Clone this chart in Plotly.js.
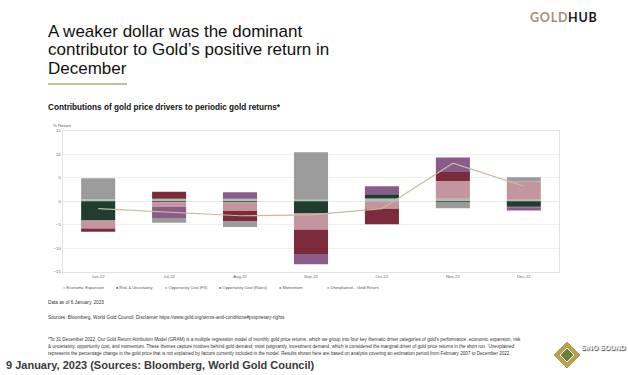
<!DOCTYPE html>
<html><head><meta charset="utf-8">
<script src="https://cdn.plot.ly/plotly-3.0.1.min.js"></script>
<style>html,body{margin:0;padding:0;background:#fff;} #chart{width:628px;height:375px;}</style>
</head><body><div id="chart"></div>
<script>
// ---- data ----
const months = ["Jun-22","Jul-22","Aug-22","Sep-22","Oct-22","Nov-22","Dec-22"];
const economicExpansion = [0.4, 0.5, 0.5, 0.3, 0.6, 0.5, 0.3];
const riskUncertainty   = [-4.1, -0.2, -0.2, -2.5, 0.9, -0.3, -1.2];
const oppCostFX         = [-1.7, -1.0, -1.9, -3.6, -1.6, 3.8, 3.9];
const oppCostRates      = [-0.7, 1.5, -2.1, -5.3, -3.3, 1.9, -0.1];
const momentum          = [0.0, -2.4, 1.4, -2.0, 1.7, 3.1, -0.7];
const unexplained       = [4.5, -1.0, -1.3, 10.1, 0.0, -1.2, 0.9];
const goldReturn        = [-1.6, -2.4, -3.1, -2.9, -1.6, 8.1, 3.2];
const seriesNames = ["Economic Expansion","Risk & Uncertainty","Opportunity Cost (FX)","Opportunity Cost (Rates)","Momentum","Unexplained"];
const lineName = "Gold Return";
const yTickValues = [-15,-10,-5,0,5,10,15];

// ---- styling ----
const W = 628, H = 375;
const px = x => x / W;
const py = y => 1 - y / H;
const colors = ["#a9c3b4","#1f3d2e","#c4959f","#7c2b3c","#8a5b8b","#9b9b9b"];
const lineColor = "#c9ba9e";
const FONT = "Liberation Sans, Arial, sans-serif";

const seriesValues = [economicExpansion, riskUncertainty, oppCostFX, oppCostRates, momentum, unexplained];
const traces = seriesValues.map((v, i) => ({
  type: 'bar', x: months, y: v, name: seriesNames[i],
  marker: {color: colors[i], line: {width: 0}}, width: 0.48,
  showlegend: false, hoverinfo: 'skip'
}));
traces.push({type: 'scatter', mode: 'lines', x: months, y: goldReturn, name: lineName,
  line: {color: lineColor, width: 1.2}, showlegend: false, hoverinfo: 'skip'});

const ann = [];
function txt(text, x, y, size, color, extraFont, opts) {
  ann.push(Object.assign({text: text, x: px(x), y: py(y), xref: 'paper', yref: 'paper',
    xanchor: 'left', yanchor: 'middle', showarrow: false, borderpad: 0,
    font: Object.assign({family: FONT, size: size, color: color}, extraFont || {})}, opts || {}));
}
// title
txt("A weaker dollar was the dominant", 47, 31.5, 17, "#111");
txt("contributor to Gold\u2019s positive return in", 47, 50, 17, "#111");
txt("December", 47, 68.5, 17, "#111");
txt("Contributions of gold price drivers to periodic gold returns*", 47, 107, 8.2, "#111", {weight: 700});
// GOLDHUB
const hs = "\u200A";
txt(["G","O","L","D"].join(hs), 529, 17, 12.5, "#9f9272", {family: "Lato, sans-serif", weight: 700});
txt(["H","U","B"].join(hs), 567, 17, 12.5, "#1a1a1a", {family: "Lato, sans-serif", weight: 700});
// axis label
txt("% Return", 52, 125.5, 4.3, "#555");
// legend
const legendX = [61.5, 115, 163.5, 218, 278, 326];
seriesNames.forEach((n, i) => {
  txt('<span style="color:' + colors[i] + '">\u25CF</span>\u00A0' + n, legendX[i], 287, 4, "#555");
});
txt('<span style="color:' + lineColor + '">\u2014</span>\u00A0' + lineName, 351, 287, 4, "#555");
// notes
txt("Data as of 6 January, 2023", 47, 302, 4.7, "#333");
txt("Sources: Bloomberg, World Gold Council; Disclaimer https://www.gold.org/terms-and-conditions#proprietary-rights", 47, 317, 4.7, "#333");
txt("*To 31 December 2022. Our Gold Return Attribution Model (GRAM) is a multiple regression model of monthly gold price returns, which we group into four key thematic driver categories of gold\u2019s performance: economic expansion, risk", 47, 339, 4.6, "#333");
txt("& uncertainty, opportunity cost, and momentum. These themes capture motives behind gold demand; most poignantly, investment demand, which is considered the marginal driver of gold price returns in the short run. \u2018Unexplained\u2019", 47, 346, 4.6, "#333");
txt("represents the percentage change in the gold price that is not explained by factors currently included in the model. Results shown here are based on analysis covering an estimation period from February 2007 to December 2022.", 47, 353, 4.6, "#333");
// caption
txt("9 January, 2023 (Sources: Bloomberg, World Gold Council)", 5, 365, 11, "#3a3a3a", {weight: 700});
// watermark
txt("SiNO SOUND", 626, 347, 7, "#ffffff", {weight: 700, shadow: "1px 1px 1px #333"}, {xanchor: 'right'});

const shapes = [
  {type:'line', xref:'paper', yref:'paper', x0:px(48), x1:px(127), y0:py(84), y1:py(84), line:{color:'#b9a57c', width:1.5}},
  {type:'path', xref:'paper', yref:'paper', path:`M ${px(567)} ${py(341)} L ${px(581)} ${py(355)} L ${px(567)} ${py(369)} L ${px(553)} ${py(355)} Z`, fillcolor:'#b8a050', line:{color:'#ffffff', width:1}},
  {type:'path', xref:'paper', yref:'paper', path:`M ${px(567)} ${py(348)} L ${px(574)} ${py(355)} L ${px(567)} ${py(362)} L ${px(560)} ${py(355)} Z`, fillcolor:'#6f7f3a', line:{color:'#ffffff', width:1}}
];

const layout = {
  width: W, height: H, margin: {l:0, r:0, t:0, b:0},
  paper_bgcolor: '#fff', plot_bgcolor: '#fff',
  barmode: 'relative', showlegend: false,
  font: {family: FONT, color: '#555'},
  xaxis: {domain: [px(62.7), px(559.3)], range: [-0.5, 6.5], type: 'category',
    showline: true, mirror: true, linecolor: '#e2e2e2', linewidth: 1,
    showgrid: false, ticks: '', tickfont: {size: 4.3, color: '#666'}, fixedrange: true},
  yaxis: {domain: [py(271.7), py(130.7)], range: [-15, 15], tickvals: yTickValues,
    showline: true, mirror: true, linecolor: '#e2e2e2', linewidth: 1,
    gridcolor: '#efefef', zeroline: true, zerolinecolor: '#e6e6e6', zerolinewidth: 1,
    ticks: '', tickfont: {size: 4.3, color: '#666'}, fixedrange: true},
  annotations: ann, shapes: shapes
};
Plotly.newPlot('chart', traces, layout, {displayModeBar: false, staticPlot: true});
</script></body></html>
